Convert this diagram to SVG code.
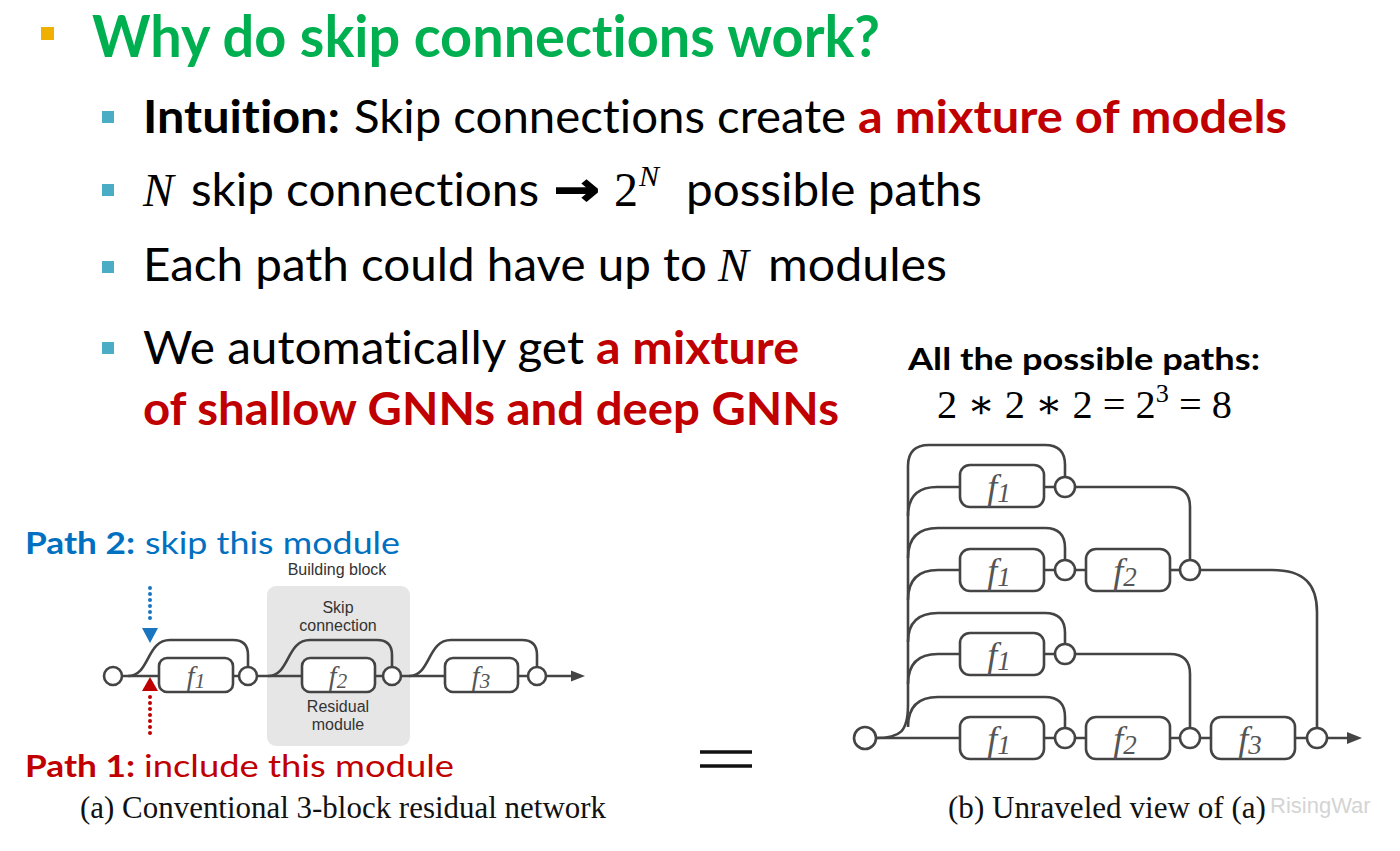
<svg xmlns="http://www.w3.org/2000/svg" width="1400" height="851" viewBox="0 0 1400 851">
<style>
text{font-variant-ligatures:none}
.body{font-family:Lato,"Open Sans","Liberation Sans",sans-serif;font-size:46px;fill:#000}
.b{font-weight:bold}
.red{fill:#C00000;font-weight:bold}
.math{font-family:"Liberation Serif","DejaVu Serif",serif;font-style:italic;font-size:46px;fill:#000}
.num{font-family:"Liberation Serif","DejaVu Serif",serif;fill:#000}
.lab{font-family:"Liberation Sans",Arial,sans-serif;font-size:16px;fill:#333;text-anchor:middle}
.fn{font-family:"Liberation Serif","DejaVu Serif",serif;font-style:italic;fill:#555;text-anchor:middle}
.ln{fill:none;stroke:#444;stroke-width:2.6}
.box{fill:#fff;stroke:#444;stroke-width:2.6}
.cir{fill:#fff;stroke:#444;stroke-width:2.6}
.cap{font-family:"Liberation Serif","Times New Roman",serif;font-size:31px;fill:#111}
.bul{fill:#4BACC6}
</style>

<!-- Title -->
<g id="title">
<rect x="41" y="27" width="13" height="13" fill="#F0B000"/>
<text x="92" y="57" class="body b" style="font-size:57px;fill:#00B050" textLength="788" lengthAdjust="spacingAndGlyphs">Why do skip connections work?</text>
</g>

<!-- Bullets -->
<g id="bullets">
<rect class="bul" x="102" y="111" width="12" height="12"/>
<text x="143" y="133" class="body b" textLength="197" lengthAdjust="spacingAndGlyphs">Intuition:</text>
<text x="354" y="133" class="body" textLength="492" lengthAdjust="spacingAndGlyphs">Skip connections create</text>
<text x="858" y="133" class="body red" textLength="429" lengthAdjust="spacingAndGlyphs">a mixture of models</text>

<rect class="bul" x="102" y="184" width="12" height="12"/>
<text x="143" y="206" class="math">N</text>
<text x="191" y="206" class="body" textLength="348" lengthAdjust="spacingAndGlyphs">skip connections</text>
<text x="554" y="205" style="font-family:'DejaVu Sans',sans-serif;font-weight:bold;font-size:46px;fill:#000;stroke:#000;stroke-width:1.5" textLength="46" lengthAdjust="spacingAndGlyphs">→</text>
<text x="614" y="206" class="num" style="font-size:48px">2</text>
<text x="639" y="186" class="math" style="font-size:30px">N</text>
<text x="686" y="206" class="body" textLength="296" lengthAdjust="spacingAndGlyphs">possible paths</text>

<rect class="bul" x="102" y="261" width="12" height="12"/>
<text x="143" y="281" class="body" textLength="564" lengthAdjust="spacingAndGlyphs">Each path could have up to</text>
<text x="718" y="281" class="math">N</text>
<text x="768" y="281" class="body" textLength="179" lengthAdjust="spacingAndGlyphs">modules</text>

<rect class="bul" x="102" y="342" width="12" height="12"/>
<text x="143" y="364" class="body" textLength="441" lengthAdjust="spacingAndGlyphs">We automatically get</text>
<text x="596" y="364" class="body red" textLength="203" lengthAdjust="spacingAndGlyphs">a mixture</text>
<text x="143" y="425" class="body red" textLength="696" lengthAdjust="spacingAndGlyphs">of shallow GNNs and deep GNNs</text>
</g>

<!-- Right header -->
<g id="paths-header">
<text x="908" y="370" class="body b" style="font-size:31px" textLength="352" lengthAdjust="spacingAndGlyphs">All the possible paths:</text>
<text x="937" y="418" class="num" style="font-size:40px" textLength="295" lengthAdjust="spacingAndGlyphs">2 ∗ 2 ∗ 2 = 2<tspan dy="-16" style="font-size:26px">3</tspan><tspan dy="16"> = 8</tspan></text>
</g>

<!-- Left diagram -->
<g id="building-block">
<rect x="267" y="586" width="143" height="160" rx="9" fill="#e6e6e6"/>
<text x="337" y="575" class="lab">Building block</text>
<text x="338" y="613" class="lab">Skip</text>
<text x="338" y="631" class="lab">connection</text>
<text x="338" y="712" class="lab">Residual</text>
<text x="338" y="730" class="lab">module</text>
</g>

<g id="path-labels">
<text x="25" y="554" class="body b" style="font-size:30px;fill:#0070C0" textLength="110" lengthAdjust="spacingAndGlyphs">Path 2:</text>
<text x="145" y="554" class="body" style="font-size:30px;fill:#0070C0" textLength="255" lengthAdjust="spacingAndGlyphs">skip this module</text>
<text x="25" y="777" class="body b" style="font-size:30px;fill:#C00000" textLength="110" lengthAdjust="spacingAndGlyphs">Path 1:</text>
<text x="144" y="777" class="body" style="font-size:30px;fill:#C00000" textLength="310" lengthAdjust="spacingAndGlyphs">include this module</text>
</g>

<g id="left-connectors">
<path class="ln" d="M122 676 L574 676"/>
<polygon points="571,670.5 585,676 571,681.5" fill="#444"/>
<path class="ln" d="M128 676 C150 676 146 640 170 640 L233 640 Q248 640 248 655 L248 667"/>
<path class="ln" d="M268 676 C290 676 286 640 310 640 L377 640 Q392 640 392 655 L392 667"/>
<path class="ln" d="M409 676 C431 676 427 640 451 640 L522 640 Q537 640 537 655 L537 667"/>
<line x1="150" y1="588" x2="150" y2="624" stroke="#1a75c0" stroke-width="4" stroke-linecap="round" stroke-dasharray="0 6"/>
<polygon points="142,628 158,628 150,643" fill="#1a75c0"/>
<polygon points="142,691 158,691 150,677" fill="#C00000"/>
<line x1="150" y1="697" x2="150" y2="734" stroke="#C00000" stroke-width="4" stroke-linecap="round" stroke-dasharray="0 6"/>
</g>

<g id="left-nodes">
<circle class="cir" cx="113" cy="676" r="9"/>
<rect class="box" x="159" y="658" width="74" height="34" rx="8"/>
<text x="196" y="685" class="fn" style="font-size:28px">f<tspan dy="3" style="font-size:21px">1</tspan></text>
<circle class="cir" cx="248" cy="676" r="9"/>
<rect class="box" x="302" y="658" width="73" height="34" rx="8"/>
<text x="338" y="685" class="fn" style="font-size:28px">f<tspan dy="3" style="font-size:21px">2</tspan></text>
<circle class="cir" cx="392" cy="676" r="9"/>
<rect class="box" x="445" y="658" width="73" height="34" rx="8"/>
<text x="481" y="685" class="fn" style="font-size:28px">f<tspan dy="3" style="font-size:21px">3</tspan></text>
<circle class="cir" cx="537" cy="676" r="9"/>
</g>

<!-- equals -->
<g id="equals">
<line x1="700" y1="752" x2="752" y2="752" stroke="#111" stroke-width="3.4"/>
<line x1="700" y1="766" x2="752" y2="766" stroke="#111" stroke-width="3.4"/>
</g>

<!-- Right diagram connectors -->
<g id="right-connectors">
<path class="ln" d="M876 738 L1350 738"/>
<polygon points="1347,732 1362,738 1347,744" fill="#444"/>
<path class="ln" d="M876 738 C900 738 908 732 908 705 L908 466 Q908 445 929 445 L1045 445 Q1065 445 1065 465 L1065 477"/>
<path class="ln" d="M908 516 Q908 487 937 487 L1055 487"/>
<path class="ln" d="M1075 487 L1170 487 Q1190 487 1190 507 L1190 560"/>
<path class="ln" d="M908 558 Q908 528 938 528 L1045 528 Q1065 528 1065 548 L1065 560"/>
<path class="ln" d="M908 600 Q908 570 938 570 L1085 570"/>
<path class="ln" d="M1170 570 L1180 570"/>
<path class="ln" d="M1200 570 L1272 570 C1305 570 1317 585 1317 612 L1317 728"/>
<path class="ln" d="M908 642 Q908 613 938 613 L1045 613 Q1065 613 1065 633 L1065 644"/>
<path class="ln" d="M908 684 Q908 654 938 654 L1055 654"/>
<path class="ln" d="M1075 654 L1170 654 Q1190 654 1190 674 L1190 728"/>
<path class="ln" d="M908 727 Q908 697 938 697 L1045 697 Q1065 697 1065 717 L1065 728"/>
</g>

<g id="right-nodes">
<circle class="cir" cx="865" cy="738" r="11"/>
<rect class="box" x="960" y="465" width="84" height="42" rx="10"/>
<text x="999" y="499" class="fn" style="font-size:36px">f<tspan dy="3" style="font-size:27px">1</tspan></text>
<circle class="cir" cx="1065" cy="487" r="10"/>

<rect class="box" x="960" y="549" width="84" height="42" rx="10"/>
<text x="999" y="583" class="fn" style="font-size:36px">f<tspan dy="3" style="font-size:27px">1</tspan></text>
<circle class="cir" cx="1065" cy="570" r="10"/>
<rect class="box" x="1086" y="549" width="84" height="42" rx="10"/>
<text x="1125" y="583" class="fn" style="font-size:36px">f<tspan dy="3" style="font-size:27px">2</tspan></text>
<circle class="cir" cx="1190" cy="570" r="10"/>

<rect class="box" x="960" y="633" width="84" height="42" rx="10"/>
<text x="999" y="667" class="fn" style="font-size:36px">f<tspan dy="3" style="font-size:27px">1</tspan></text>
<circle class="cir" cx="1065" cy="654" r="10"/>

<rect class="box" x="960" y="717" width="84" height="42" rx="10"/>
<text x="999" y="751" class="fn" style="font-size:36px">f<tspan dy="3" style="font-size:27px">1</tspan></text>
<circle class="cir" cx="1065" cy="738" r="10"/>
<rect class="box" x="1086" y="717" width="84" height="42" rx="10"/>
<text x="1125" y="751" class="fn" style="font-size:36px">f<tspan dy="3" style="font-size:27px">2</tspan></text>
<circle class="cir" cx="1190" cy="738" r="10"/>
<rect class="box" x="1211" y="717" width="84" height="42" rx="10"/>
<text x="1250" y="751" class="fn" style="font-size:36px">f<tspan dy="3" style="font-size:27px">3</tspan></text>
<circle class="cir" cx="1317" cy="738" r="10"/>
</g>

<!-- captions -->
<g id="captions">
<text x="80" y="818" class="cap" textLength="526" lengthAdjust="spacingAndGlyphs">(a) Conventional 3-block residual network</text>
<text x="948" y="818" class="cap" textLength="318" lengthAdjust="spacingAndGlyphs">(b) Unraveled view of (a)</text>
<text x="1270" y="813" style="font-family:'Liberation Sans',sans-serif;font-size:22px;fill:#d4d4d4">RisingWar</text>
</g>
</svg>
